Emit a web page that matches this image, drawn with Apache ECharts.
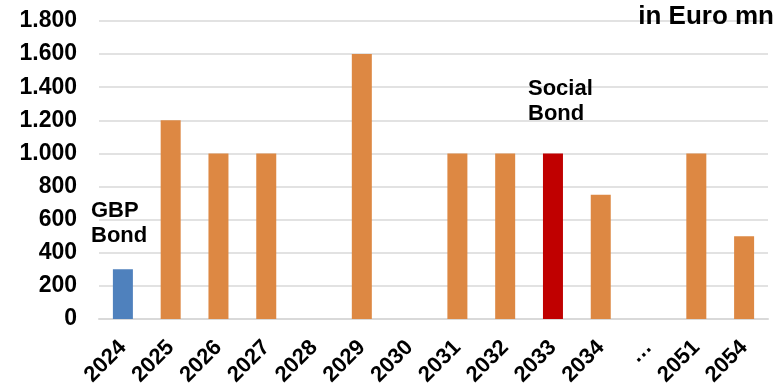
<!DOCTYPE html>
<html>
<head>
<meta charset="utf-8">
<script src="https://cdn.jsdelivr.net/npm/echarts@6/dist/echarts.min.js"></script>
<style>
html,body{margin:0;padding:0;background:#fff;}
#c{width:777px;height:385px;}
</style>
</head>
<body>
<div id="c"></div>
<script>
const categories = ['2024','2025','2026','2027','2028','2029','2030','2031','2032','2033','2034','…','2051','2054'];
const values = [300,1200,1000,1000,null,1600,null,1000,1000,1000,750,null,1000,500];
const barColors = ['#4f81bd','#dd8843','#dd8843','#dd8843','#dd8843','#dd8843','#dd8843','#dd8843','#dd8843','#c00000','#dd8843','#dd8843','#dd8843','#dd8843'];
const yTicks = ['0','200','400','600','800','1.000','1.200','1.400','1.600','1.800'];

const chart = echarts.init(document.getElementById('c'), null, {renderer:'canvas'});
const font = 'Liberation Sans, Arial, sans-serif';
chart.setOption({
  animation:false,
  grid:{left:99,right:9,top:21,bottom:66,containLabel:false,outerBoundsMode:'none'},
  xAxis:{
    type:'category',
    data:categories,
    axisLine:{lineStyle:{color:'#d9d9d9',width:2}},
    axisTick:{show:false},
    axisLabel:{rotate:45,interval:0,margin:25,fontFamily:font,fontWeight:'bold',fontSize:22,color:'#000'}
  },
  yAxis:{
    type:'value',min:0,max:1800,interval:200,
    axisLine:{show:false},axisTick:{show:false},
    splitLine:{lineStyle:{color:'#d9d9d9',width:1.5}},
    axisLabel:{margin:22,fontFamily:font,fontWeight:'bold',fontSize:23,color:'#000',
      formatter:function(v){return yTicks[Math.round(v/200)];}}
  },
  series:[{
    type:'bar',
    barWidth:20,
    data:values.map((v,i)=>({value:v,itemStyle:{color:barColors[i]}})),
  }],
  graphic:[
    {type:'text',z:100,right:3,top:4,style:{text:'in Euro mn',font:'bold 26px '+font,fill:'#000'}},
    {type:'text',z:100,left:91,top:198,style:{text:'GBP\nBond',font:'bold 22px '+font,fill:'#000',lineHeight:25}},
    {type:'text',z:100,left:528,top:76,style:{text:'Social\nBond',font:'bold 22px '+font,fill:'#000',lineHeight:25}}
  ]
});
</script>
</body>
</html>
